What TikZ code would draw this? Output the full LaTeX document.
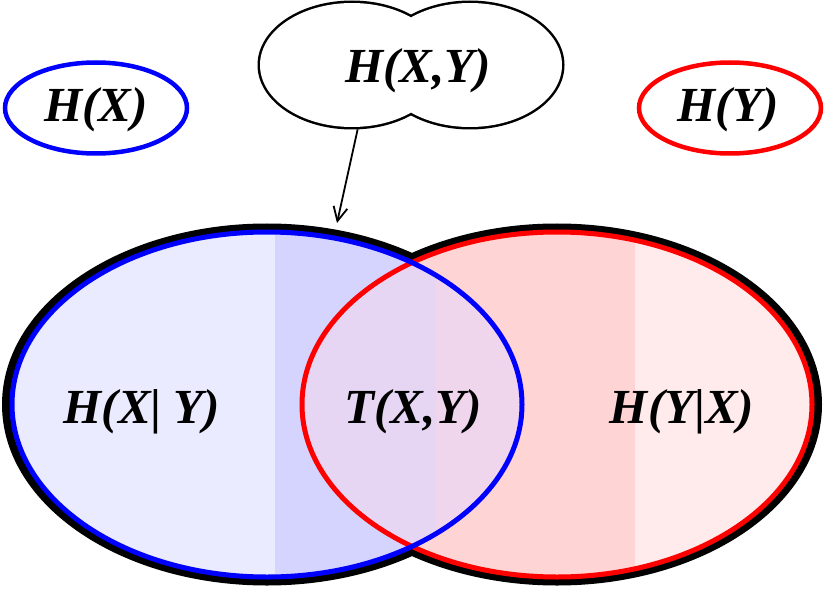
\documentclass[tikz,border=0pt]{standalone}
\usepackage{fontspec}
\setmainfont{Liberation Serif}
\usetikzlibrary{arrows.meta,shapes.geometric}

\definecolor{bothl}{RGB}{230,214,244}
\definecolor{bothr}{RGB}{240,214,236}

\tikzset{
  lbl/.style={font=\fontsize{49}{54}\selectfont\bfseries\itshape,anchor=base,inner sep=0},
  ent/.style={ellipse,line width=4.5,minimum width=182,minimum height=91,inner sep=0},
  lobe/.style={ellipse,draw,line width=5,minimum width=184,minimum height=124,inner sep=0}
}

\begin{document}
\begin{tikzpicture}[x=1pt,y=1pt]
\useasboundingbox (0,0) rectangle (824,590);
% black rim round both sets
\draw[line width=16] (267,185.5) ellipse [x radius=257,y radius=173] (557,185.5) ellipse [x radius=257,y radius=173];
\fill[white] (267,185.5) ellipse [x radius=257,y radius=173] (557,185.5) ellipse [x radius=257,y radius=173];
% shaded fills
\begin{scope}
\clip (267,185.5) ellipse [x radius=255,y radius=172.5];
\fill[blue!8] (0,0) rectangle (275,590);
\fill[blue!17] (275,0) rectangle (530,590);
\end{scope}
\begin{scope}
\clip (557,185.5) ellipse [x radius=255,y radius=172.5];
\fill[red!17] (295,0) rectangle (635,590);
\fill[red!8] (635,0) rectangle (824,590);
\clip (267,185.5) ellipse [x radius=255,y radius=172.5];
\fill[bothl] (295,0) rectangle (436,590);
\fill[bothr] (436,0) rectangle (530,590);
\end{scope}
\draw[red,line width=5] (557,185.5) ellipse [x radius=255,y radius=172.5];
\draw[blue,line width=5] (267,185.5) ellipse [x radius=255,y radius=172.5];
\node[lbl] (hxgy) at (142,167) {H(X{\upshape|} Y)};
\node[lbl] (txy) at (413,167) {T(X,Y)};
\node[lbl] (hygx) at (682,167) {H(Y{\upshape|}X)};
% the two entropies
\node[ent,draw=blue] (hx) at (96,482) {};
\node[lbl] (hxlbl) at (96,468) {H(X)};
\node[ent,draw=red] (hy) at (730,482) {};
\node[lbl] (hylbl) at (728,468) {H(Y)};
% joint entropy cloud
\node[lobe] (cl) at (352,525) {};
\node[lobe] (cr) at (470,525) {};
\fill[white] (352,525) ellipse [x radius=92,y radius=62] (470,525) ellipse [x radius=92,y radius=62];
\node[lbl] (hxy) at (418,507) {H(X,Y)};
\coordinate (rimtop) at (337,367);
\draw[line width=1.8,-{Straight Barb[length=14pt,width=14pt]}] (cl.-85) -- (rimtop);
\end{tikzpicture}
\end{document}
